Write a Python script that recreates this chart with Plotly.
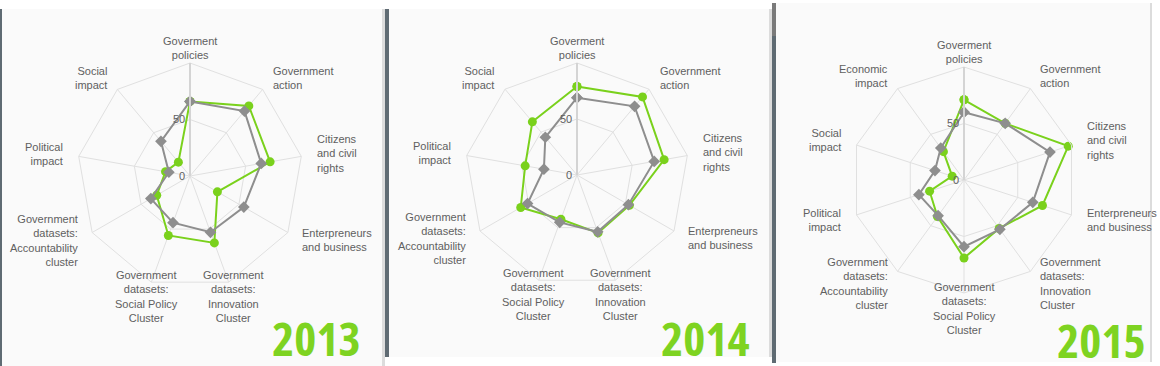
import math
import plotly.graph_objects as go

# ---------------- data ----------------
cats_9 = [
    "Goverment<br>policies",
    "Government<br>action",
    "Citizens<br>and civil<br>rights",
    "Enterpreneurs<br>and business",
    "Government<br>datasets:<br>Innovation<br>Cluster",
    "Government<br>datasets:<br>Social Policy<br>Cluster",
    "Government<br>datasets:<br>Accountability<br>cluster",
    "Political<br>impact",
    "Social<br>impact",
]
cats_10 = cats_9 + ["Economic<br>impact"]

green_2013 = [66, 81, 72, 28, 63, 56, 34, 22, 16]
gray_2013 = [66, 75, 64, 55, 53, 44, 40, 19, 40]

green_2014 = [79, 91, 79, 54, 55, 42, 58, 47, 62]
gray_2014 = [69, 80, 70, 53, 54, 45, 51, 30, 44]

green_2015 = [71, 62, 97, 73, 53, 69, 40, 32, 11, 31]
gray_2015 = [60, 62, 80, 64, 54, 59, 39, 42, 27, 35]

years = ["2013", "2014", "2015"]
radial_ticks = [0, 50]
radial_max = 100

# ---------------- style ----------------
W, H = 1160, 366
GREEN = "#7ad11c"
GRAY = "#8e8e8e"
PANEL_BG = "#fafafa"
DARK = "#5f6b73"
LIGHT = "#dcdcdc"
GRID = "#e0e0e0"
LABEL = "#606060"
FONT = "Liberation Sans, Arial, sans-serif"
LABEL_GAP = 15  # px between outer polygon and category labels
YEAR_FONT = "Open Sans"

panels = [
    dict(cats=cats_9, g=green_2013, k=gray_2013, cx=190, cy=176, R=113),
    dict(cats=cats_9, g=green_2014, k=gray_2014, cx=577, cy=175, R=112),
    dict(cats=cats_10, g=green_2015, k=gray_2015, cx=964, cy=180, R=113),
]

fig = go.Figure()
annotations = []


def closed(v):
    return list(v) + [v[0]]


for i, p in enumerate(panels):
    sub = "polar" if i == 0 else f"polar{i+1}"
    fig.add_trace(go.Scatterpolar(
        r=closed(p["g"]), theta=closed(p["cats"]), subplot=sub,
        mode="lines+markers", line=dict(color=GREEN, width=2),
        marker=dict(symbol="circle", size=9, color=GREEN),
        showlegend=False, cliponaxis=False))
    fig.add_trace(go.Scatterpolar(
        r=closed(p["k"]), theta=closed(p["cats"]), subplot=sub,
        mode="lines+markers", line=dict(color=GRAY, width=2),
        marker=dict(symbol="diamond", size=9, color=GRAY),
        showlegend=False, cliponaxis=False))

    x0, x1 = (p["cx"] - p["R"]) / W, (p["cx"] + p["R"]) / W
    y0, y1 = 1 - (p["cy"] + p["R"]) / H, 1 - (p["cy"] - p["R"]) / H
    fig.layout[sub] = dict(
        domain=dict(x=[x0, x1], y=[y0, y1]),
        bgcolor="rgba(0,0,0,0)",
        gridshape="linear",
        angularaxis=dict(
            direction="clockwise", rotation=90, type="category",
            categoryorder="array", categoryarray=p["cats"],
            gridcolor=GRID, linecolor=GRID, showline=True, ticks="",
            showticklabels=False,
        ),
        radialaxis=dict(
            range=[0, radial_max], tickvals=radial_ticks, angle=90, tickangle=90,
            side="counterclockwise",
            gridcolor=GRID, showline=True, linecolor="#d4d4d4", linewidth=2,
            ticks="",
            tickfont=dict(family=FONT, size=11, color=LABEL),
        ),
    )

    # category labels, placed just outside each vertex of the outer polygon
    n = len(p["cats"])
    for j, c in enumerate(p["cats"]):
        deg = round(j * 360.0 / n, 6)
        rad = math.radians(deg)
        px = p["cx"] + (p["R"] + LABEL_GAP) * math.sin(rad)
        py = p["cy"] - (p["R"] + LABEL_GAP) * math.cos(rad)
        if 20 < deg < 160:
            al = "left"
        elif 200 < deg < 340:
            al = "right"
        else:
            al = "center"
        annotations.append(dict(
            text=c, x=px / W, y=1 - py / H, xref="paper", yref="paper",
            xanchor=al, yanchor="middle", align=al, showarrow=False,
            borderpad=0, font=dict(family=FONT, size=11, color=LABEL)))

# ---------------- background / frame shapes ----------------
def rect(x0, y0, x1, y1, color, layer="below"):
    return dict(type="rect", xref="paper", yref="paper",
                x0=x0 / W, x1=x1 / W, y0=1 - y1 / H, y1=1 - y0 / H,
                fillcolor=color, line=dict(width=0), layer=layer)

shapes = [
    rect(0, 9, 2, 366, DARK),
    rect(2, 9, 382, 366, PANEL_BG),
    rect(382, 9, 385, 366, LIGHT),
    rect(385, 9, 389, 357, DARK),
    rect(389, 9, 769, 357, PANEL_BG),
    rect(769, 9, 772, 357, LIGHT),
    rect(772, 3, 776, 36, "#7a7a7a"),
    rect(772, 36, 776, 363, DARK),
    rect(776, 3, 1150, 362, PANEL_BG),
    rect(1150, 3, 1152, 362, LIGHT),
]

year_pos = [(362, 338), (751, 338), (1147, 340)]
for y, (xr, yc) in zip(years, year_pos):
    annotations.append(dict(
        text=f"<b>{y}</b>", x=xr / W, y=1 - yc / H, xref="paper", yref="paper",
        xanchor="right", yanchor="middle", align="right", showarrow=False,
        borderpad=0,
        font=dict(family=YEAR_FONT, size=47, color="#7ed321")))

fig.update_layout(
    width=W, height=H, margin=dict(l=0, r=0, t=0, b=0),
    paper_bgcolor="white", plot_bgcolor="white",
    shapes=shapes, annotations=annotations, showlegend=False,
)

post = """
document.body.style.margin='0px';
document.body.style.overflow='hidden';
document.querySelectorAll('text.annotation-text').forEach(function(t){
  if (/^20\\d\\d$/.test(t.textContent.trim())) { t.style.fontStretch = '75%'; }
});
"""

fig.write_html("out.html", post_script=post, config={"displayModeBar": False})
